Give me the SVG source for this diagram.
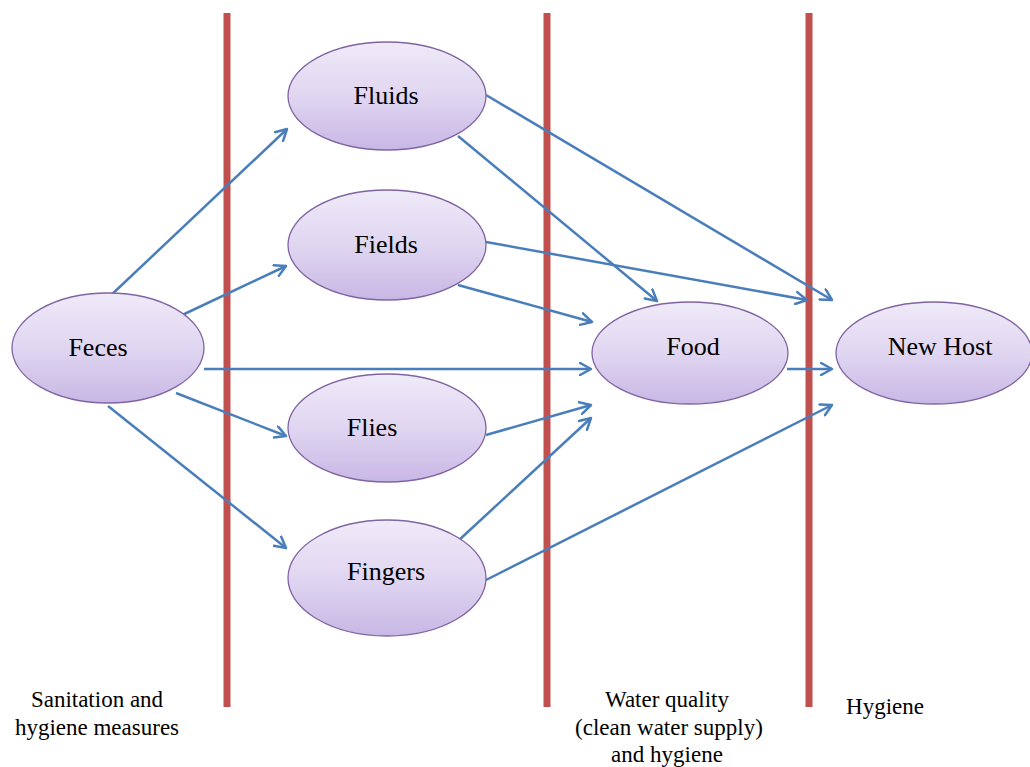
<svg xmlns="http://www.w3.org/2000/svg" width="1030" height="767" viewBox="0 0 1030 767">
<defs>
<linearGradient id="g" x1="0" y1="0" x2="0" y2="1">
<stop offset="0" stop-color="#efeaf8"/>
<stop offset="0.5" stop-color="#e0d6f1"/>
<stop offset="1" stop-color="#c8b7e5"/>
</linearGradient>
<marker id="arr" viewBox="0 0 14 14" refX="12" refY="7" markerWidth="14" markerHeight="14" markerUnits="userSpaceOnUse" orient="auto">
<path d="M1,1 L12,7 L1,13" fill="none" stroke="#4a7ebb" stroke-width="2.5" stroke-linecap="round" stroke-linejoin="round"/>
</marker>
</defs>
<style>
.bar{stroke:#c0504d;stroke-width:7;}
.node ellipse{fill:url(#g);stroke:#8064a2;stroke-width:1.3;}
.node text{font-family:"Liberation Serif",serif;font-size:26px;fill:#000;text-anchor:middle;}
.lbl{font-family:"Liberation Serif",serif;font-size:23px;fill:#000;text-anchor:middle;}
#edges line{stroke:#4a7ebb;stroke-width:2.5;marker-end:url(#arr);}
</style>
<rect width="1030" height="767" fill="#fff"/>
<g id="barriers">
<line class="bar" x1="227" y1="13" x2="227" y2="707"/>
<line class="bar" x1="547" y1="13" x2="547" y2="707"/>
<line class="bar" x1="809" y1="13" x2="809" y2="707"/>
</g>
<g id="edges">
<line x1="108" y1="298" x2="287" y2="129"/>
<line x1="176" y1="318" x2="286" y2="266"/>
<line x1="204" y1="369" x2="591" y2="369"/>
<line x1="176" y1="393" x2="286" y2="436"/>
<line x1="108" y1="406" x2="286" y2="548"/>
<line x1="458" y1="136" x2="657" y2="301"/>
<line x1="486" y1="95" x2="832" y2="300"/>
<line x1="486" y1="242" x2="807" y2="300"/>
<line x1="458" y1="285" x2="592" y2="322"/>
<line x1="486" y1="435" x2="591" y2="405"/>
<line x1="458" y1="541" x2="591" y2="418"/>
<line x1="486" y1="580" x2="832" y2="405"/>
<line x1="787" y1="369" x2="832" y2="369"/>
</g>
<g id="feces" class="node"><ellipse cx="108" cy="348" rx="96" ry="55"/><text x="98" y="356">Feces</text></g>
<g id="fluids" class="node"><ellipse cx="387" cy="96" rx="99" ry="54"/><text x="386" y="104">Fluids</text></g>
<g id="fields" class="node"><ellipse cx="387" cy="245" rx="99" ry="55"/><text x="386" y="253">Fields</text></g>
<g id="flies" class="node"><ellipse cx="387" cy="428" rx="99" ry="54"/><text x="372" y="436">Flies</text></g>
<g id="fingers" class="node"><ellipse cx="387" cy="578" rx="99" ry="58"/><text x="386" y="580">Fingers</text></g>
<g id="food" class="node"><ellipse cx="690" cy="353" rx="98" ry="51"/><text x="693" y="355">Food</text></g>
<g id="newhost" class="node"><ellipse cx="934" cy="353" rx="98" ry="51"/><text x="940" y="355">New Host</text></g>
<g id="labels">
<text class="lbl" x="97" y="707">Sanitation and</text>
<text class="lbl" x="97" y="735">hygiene measures</text>
<text class="lbl" x="667" y="707">Water quality</text>
<text class="lbl" x="669" y="735">(clean water supply)</text>
<text class="lbl" x="667" y="762">and hygiene</text>
<text class="lbl" x="885" y="714">Hygiene</text>
</g>
</svg>
